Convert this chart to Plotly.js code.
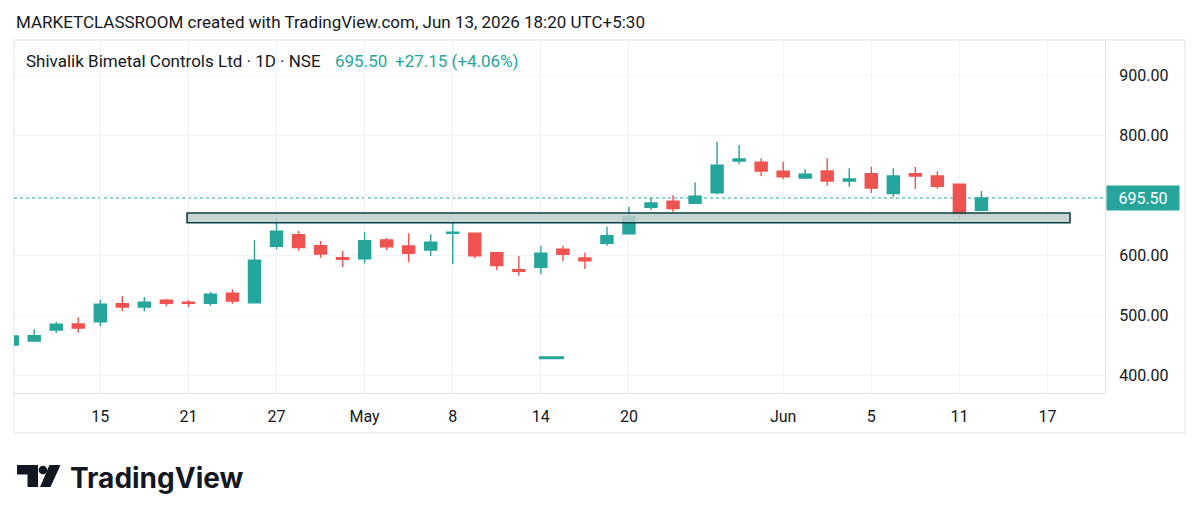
<!DOCTYPE html>
<html>
<head>
<meta charset="utf-8">
<script src="https://cdn.plot.ly/plotly-3.0.1.min.js"></script>
<style>
  html, body { margin: 0; padding: 0; background: #ffffff; }
  #chart { width: 1200px; height: 520px; }
</style>
</head>
<body>
<div id="chart"></div>
<script>
// ---- data ----
const dates = ["Apr 8","Apr 9","Apr 10","Apr 13","Apr 15","Apr 16","Apr 17","Apr 20","Apr 21","Apr 22",
  "Apr 23","Apr 24","Apr 27","Apr 28","Apr 29","Apr 30","May 4","May 5","May 6","May 7",
  "May 8","May 11","May 12","May 13","May 14","May 15","May 18","May 19","May 20","May 21",
  "May 22","May 25","May 26","May 27","May 29","Jun 1","Jun 2","Jun 3","Jun 4","Jun 5",
  "Jun 8","Jun 9","Jun 10","Jun 11","Jun 12"];
const openP  = [450.5,457,475.5,485.5,489.3,519.3,513.8,525,521.7,520,
  536.7,521,615,634.3,616,596,594.3,625.5,615.5,608.8,
  636.7,636.7,604.3,576,580,610,595.5,620,636,680,
  690,686.7,704.3,757,755,740,728.8,740.5,723.8,736,
  702.7,736,732.2,718.3,675];
const highP  = [468,476.7,489,496.7,526,532,530.5,527.7,525.5,538.8,
  543.3,625,660,640.5,623.8,607.7,638.3,628.8,636.7,635,
  655,637,604.8,598.8,615.5,616,604.3,647.7,681,696.7,
  700,721.7,789.3,783.8,761.7,756,743.3,761.7,745,747.7,
  745,747.2,740,718.8,707];
const lowP   = [446,455.5,471,471,481.7,506.7,506.7,515,513.8,516,
  519.3,520,610,607.7,596,580.5,586.7,609,588.3,598.8,
  585,595,575.5,566,568.8,590.5,577.2,616,635.5,675.5,
  672.7,686,701.7,751.7,732.2,726.7,727.2,716,714.3,703.8,
  697.7,710.5,711,662.7,675];
const closeP = [465.5,466,485,478.8,518.3,513.8,522,520,520,535,
  523.8,591.7,640,612.7,602,593.3,624.3,614.3,603.3,621.7,
  638.3,599.3,582.7,573.3,603.3,601.7,591,632.7,664.3,687.2,
  677.7,698.3,750,760.5,740.5,731,735,723.8,727.2,712.2,
  732.2,732.2,715,668.35,695.5];
const tickBars   = [5,9,13,17,21,25,29,36,40,44,48];
const tickLabels = ["15","21","27","May","8","14","20","Jun","5","11","17"];
const priceTicks = [400,500,600,700,800,900];
const hiddenPriceTicks = [700];        // label covered by the last-price tag
const zoneBars   = [8.94, 49.02];     // support zone: from bar to bar
const zonePrices = [654.3, 670.5];    // support zone: low / high price
const stubBars   = [24.91, 26.05];    // short horizontal segment
const stubPrices = [429.3, 429.3];
const lastChange = 27.15, lastChangePct = 4.06;

// ---- layout helpers (pixel -> paper) ----
const L = 14, T = 40, PW = 1091, PH = 353;
const px = v => (v - L) / PW;
const py = v => (T + PH - v) / PH;

const UP = '#26a69a', DOWN = '#ef5350', INK = '#131722';
const bars = dates.map((d, i) => i + 1);
const lastClose = closeP[closeP.length - 1];

const candle = {
  type: 'candlestick',
  x: bars, open: openP, high: highP, low: lowP, close: closeP,
  text: dates, hoverinfo: 'text',
  increasing: { line: { color: UP, width: 1.4 }, fillcolor: UP },
  decreasing: { line: { color: DOWN, width: 1.4 }, fillcolor: DOWN },
  whiskerwidth: 0,
  showlegend: false
};
const stub = {
  type: 'scatter', mode: 'lines', x: stubBars, y: stubPrices,
  line: { color: UP, width: 3 }, hoverinfo: 'skip', showlegend: false
};

const font = { family: 'Roboto, "Noto Sans", sans-serif', color: INK };

const layout = {
  width: 1200, height: 520,
  margin: { l: L, r: 1200 - L - PW, t: T, b: 520 - T - PH },
  paper_bgcolor: '#ffffff', plot_bgcolor: '#ffffff',
  font: Object.assign({ size: 16 }, font),
  showlegend: false,
  boxgap: 0.22,
  hovermode: false,
  xaxis: {
    type: 'linear', range: [1.083, 50.61], fixedrange: true,
    rangeslider: { visible: false },
    tickmode: 'array', tickvals: tickBars, ticktext: tickLabels,
    showgrid: true, gridcolor: '#f0f3fa', gridwidth: 1,
    zeroline: false, showline: true, linecolor: '#e0e3eb', linewidth: 1,
    ticks: '', ticklabelstandoff: 9,
    tickfont: { size: 16, color: INK, family: font.family }
  },
  yaxis: {
    side: 'right', range: [370.5, 958.8], fixedrange: true,
    tickmode: 'array', tickvals: priceTicks,
    ticktext: priceTicks.map(v => hiddenPriceTicks.includes(v) ? '' : v.toFixed(2)),
    showgrid: true, gridcolor: '#f0f3fa', gridwidth: 1,
    zeroline: false, showline: true, linecolor: '#e0e3eb', linewidth: 1,
    ticks: '', ticklabelstandoff: 10,
    tickfont: { size: 16, color: INK, family: font.family }
  },
  shapes: [
    // chart container frame
    { type: 'rect', xref: 'paper', yref: 'paper', x0: px(14), x1: px(1185), y0: py(433), y1: py(40),
      line: { color: '#e0e3eb', width: 1 }, fillcolor: 'rgba(0,0,0,0)', layer: 'below' },
    // last price dotted line
    { type: 'line', xref: 'paper', yref: 'y', x0: 0, x1: 1, y0: lastClose, y1: lastClose,
      line: { color: UP, width: 1.2, dash: 'dot' }, layer: 'below' },
    // support zone rectangle
    { type: 'rect', xref: 'x', yref: 'y', x0: zoneBars[0], x1: zoneBars[1], y0: zonePrices[0], y1: zonePrices[1],
      line: { color: '#0e3f42', width: 1.6 }, fillcolor: 'rgba(188,206,204,0.85)', layer: 'above' },
    // TradingView logo
    { type: 'path', xref: 'paper', yref: 'paper',
      path: `M ${px(17)},${py(465)} L ${px(38)},${py(465)} L ${px(38)},${py(487)} L ${px(27.5)},${py(487)} L ${px(27.5)},${py(474.5)} L ${px(17)},${py(474.5)} Z`,
      fillcolor: INK, line: { width: 0 } },
    { type: 'circle', xref: 'paper', yref: 'paper', x0: px(38.6), x1: px(47.2), y0: py(474.3), y1: py(465.7),
      fillcolor: INK, line: { width: 0 } },
    { type: 'path', xref: 'paper', yref: 'paper',
      path: `M ${px(49.5)},${py(465)} L ${px(60.5)},${py(465)} L ${px(50.5)},${py(487)} L ${px(40)},${py(487)} Z`,
      fillcolor: INK, line: { width: 0 } }
  ],
  annotations: [
    { xref: 'paper', yref: 'paper', x: px(14), y: py(22), xanchor: 'left', yanchor: 'middle',
      text: 'MARKETCLASSROOM created with TradingView.com, Jun 13, 2026 18:20 UTC+5:30',
      showarrow: false, font: Object.assign({ size: 17 }, font) },
    { xref: 'paper', yref: 'paper', x: px(24), y: py(61), xanchor: 'left', yanchor: 'middle',
      text: 'Shivalik Bimetal Controls Ltd · 1D · NSE',
      showarrow: false, font: Object.assign({ size: 17 }, font) },
    { xref: 'paper', yref: 'paper', x: px(333), y: py(61), xanchor: 'left', yanchor: 'middle',
      text: lastClose.toFixed(2),
      showarrow: false, font: { size: 17, color: UP, family: font.family } },
    { xref: 'paper', yref: 'paper', x: px(393), y: py(61), xanchor: 'left', yanchor: 'middle',
      text: '+' + lastChange.toFixed(2) + ' (+' + lastChangePct.toFixed(2) + '%)',
      showarrow: false, font: { size: 17, color: UP, family: font.family } },
    // last price label on the axis
    { xref: 'paper', yref: 'y', x: 1, y: lastClose, xanchor: 'left', yanchor: 'middle', xshift: 1,
      text: lastClose.toFixed(2), showarrow: false, bgcolor: UP, borderpad: 3,
      width: 66, height: 18, align: 'center',
      font: { size: 16, color: '#ffffff', family: font.family } },
    // TradingView wordmark
    { xref: 'paper', yref: 'paper', x: px(68), y: py(478), xanchor: 'left', yanchor: 'middle',
      text: '<b>TradingView</b>', showarrow: false,
      font: { size: 28, color: INK, family: 'Inter, Roboto, sans-serif' } }
  ]
};

Plotly.newPlot('chart', [candle, stub], layout, { staticPlot: true, displayModeBar: false });
</script>
</body>
</html>
